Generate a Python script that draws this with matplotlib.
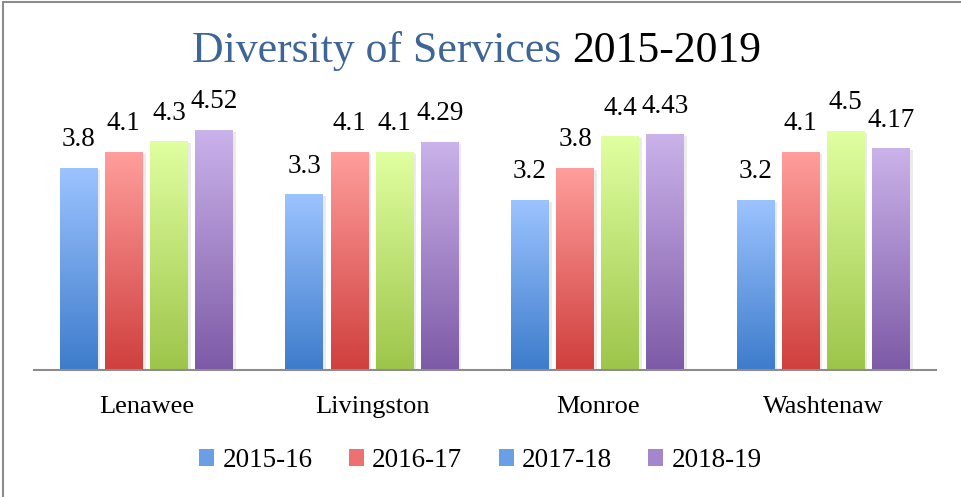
import numpy as np
import matplotlib
matplotlib.use('Agg')
import matplotlib.pyplot as plt
from matplotlib.colors import LinearSegmentedColormap
from matplotlib.patches import Patch, Rectangle

plt.rcParams['font.family'] = ['Liberation Serif', 'DejaVu Serif']

# data
counties = ['Lenawee', 'Livingston', 'Monroe', 'Washtenaw']
years = ['2015-16', '2016-17', '2017-18', '2018-19']
v_1516 = [3.8, 3.3, 3.2, 3.2]
v_1617 = [4.1, 4.1, 3.8, 4.1]
v_1718 = [4.3, 4.1, 4.4, 4.5]
v_1819 = [4.52, 4.29, 4.43, 4.17]
labels_1516 = ['3.8', '3.3', '3.2', '3.2']
labels_1617 = ['4.1', '4.1', '3.8', '4.1']
labels_1718 = ['4.3', '4.1', '4.4', '4.5']
labels_1819 = ['4.52', '4.29', '4.43', '4.17']

# (top colour, bottom colour) per series
grads = [('#9cc3ff', '#3d7ccb'),
         ('#ff9e9c', '#cf3f3d'),
         ('#e0ffa0', '#9dc54a'),
         ('#cab2ea', '#7d5aa6')]
legend_cols = ['#6a9fe6', '#ec7170', '#6a9fe6', '#a386cc']

fig = plt.figure(figsize=(9.61, 4.97), dpi=100)
ax = fig.add_axes([0.035, 0.2555, 0.939, 0.534])

x = np.arange(len(counties))
w = 0.168
step = 0.2
series = [v_1516, v_1617, v_1718, v_1819]
labs = [labels_1516, labels_1617, labels_1718, labels_1819]
grad_img = np.linspace(1, 0, 256).reshape(-1, 1)

for i, (vals, lab) in enumerate(zip(series, labs)):
    pos = x + (i - 1.5) * step
    bars = ax.bar(pos, vals, width=w, color='none', edgecolor='none', zorder=2)
    cmap = LinearSegmentedColormap.from_list(f'g{i}', [grads[i][1], grads[i][0]])
    for b, t in zip(bars, lab):
        bx, by = b.get_x(), b.get_y()
        bw, bh = b.get_width(), b.get_height()
        # soft shadow
        ax.add_patch(Rectangle((bx + 0.012, 0), bw, bh - 0.03, color='#000000',
                               alpha=0.08, zorder=1, lw=0))
        ax.imshow(grad_img, cmap=cmap, aspect='auto', zorder=2,
                  extent=[bx, bx + bw, by, by + bh], vmin=0, vmax=1)
        ax.text(bx + bw / 2, bh + 0.3, t, ha='center', va='bottom', fontsize=19.5)

ax.set_xlim(-0.5, 3.5)
ax.set_ylim(0, 5)
ax.set_xticks(x)
ax.set_xticklabels(counties, fontsize=19)
ax.tick_params(axis='x', length=0, pad=19)
ax.set_yticks([])
for s in ['top', 'right', 'left']:
    ax.spines[s].set_visible(False)
ax.spines['bottom'].set_color('#8c8c8c')
ax.spines['bottom'].set_linewidth(1.5)

# two-colour title
fig.text(0.5845, 0.897, 'Diversity of Services', color='#3d6598', fontsize=31.5,
         ha='right', va='center')
fig.text(0.5955, 0.897, '2015-2019', color='black', fontsize=31.5,
         ha='left', va='center')

handles = [Patch(facecolor=c, edgecolor='none') for c in legend_cols]
fig.legend(handles, years, loc='center', bbox_to_anchor=(0.5, 0.073), ncol=4,
           frameon=False, fontsize=19.5, handlelength=0.55, handleheight=0.55,
           handletextpad=0.3, columnspacing=1.35)

# chart frame (cropped on right/bottom)
fig.add_artist(Rectangle((0.0035, -0.1), 1.2, 1.095, transform=fig.transFigure,
                         fill=False, edgecolor='#8c8c8c', lw=1.5))

fig.savefig('out.png', dpi=100)
